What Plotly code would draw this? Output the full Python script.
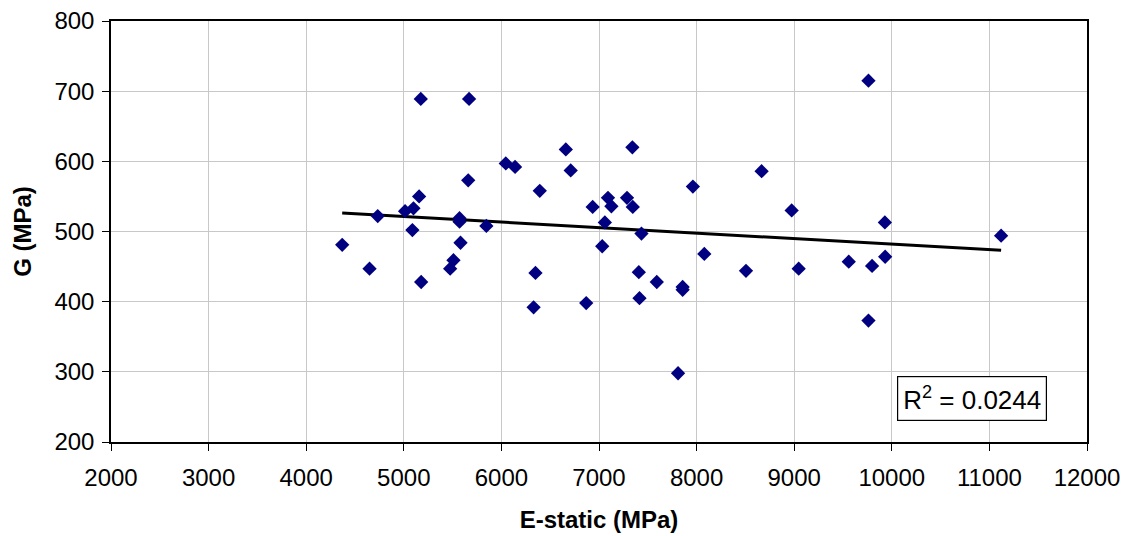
import numpy as np
import plotly.graph_objects as go

# E-static (MPa) vs G (MPa)
e_static = [5174, 5669, 6660, 7342, 6045, 6140, 6710, 5660, 6393, 7962,
            5157, 7092, 7287, 6935, 7127, 7346, 5099, 5013, 4733, 5571,
            5571, 5846, 7060, 7435, 5088, 4369, 5581, 7033, 4649, 5509,
            5475, 5178, 6349, 7408, 7592, 7857, 7857, 7415, 6330, 6869,
            9761, 8666, 8974, 9929, 11120, 8079, 9932, 8506, 9046, 9559,
            9798, 9761, 7810]
g_mod = [689, 689, 617, 620, 597, 592, 587, 573, 558, 564,
         550, 548, 548, 535, 536, 535, 533, 529, 522, 519,
         514, 508, 513, 497, 502, 481, 484, 479, 447, 459,
         447, 428, 441, 442, 428, 421, 417, 405, 392, 398,
         715, 586, 530, 513, 494, 468, 464, 444, 447, 457,
         451, 373, 298]

r2_label = "R<sup>2</sup> = 0.0244"

# linear trendline over the data range
slope, intercept = np.polyfit(e_static, g_mod, 1)
tx = [min(e_static), max(e_static)]
ty = [slope * v + intercept for v in tx]

fig = go.Figure()
fig.add_trace(go.Scatter(
    x=tx, y=ty, mode="lines",
    line=dict(color="black", width=3),
    hoverinfo="skip"
))
fig.add_trace(go.Scatter(
    x=e_static, y=g_mod, mode="markers",
    marker=dict(symbol="diamond", color="#000080", size=11,
                line=dict(width=0))
))

fam = "Liberation Sans, Arial, sans-serif"
tick_font = dict(family=fam, size=24, color="black")
title_font = dict(family=fam, size=24, color="black")

fig.update_xaxes(
    range=[2000, 12000], dtick=1000, tick0=2000, tickformat="d",
    showgrid=True, gridcolor="#c8c8c8", gridwidth=1,
    showline=True, linecolor="black", linewidth=1.5, mirror=True,
    ticks="outside", ticklen=7, tickcolor="black", ticklabelstandoff=6,
    tickfont=tick_font, zeroline=False, automargin=False,
    title=dict(text="<b>E-static (MPa)</b>", font=title_font, standoff=22)
)
fig.update_yaxes(
    range=[200, 800], dtick=100, tick0=200, tickformat="d",
    showgrid=True, gridcolor="#c8c8c8", gridwidth=1,
    showline=True, linecolor="black", linewidth=1.5, mirror=True,
    ticks="outside", ticklen=7, tickcolor="black", ticklabelstandoff=3,
    tickfont=tick_font, zeroline=False, automargin=False,
    title=dict(text="<b>G (MPa)</b>", font=title_font, standoff=16)
)

fig.add_annotation(
    x=10817, y=262, xref="x", yref="y", text=r2_label, showarrow=False,
    font=dict(family=fam, size=26, color="black"),
    bordercolor="black", borderwidth=1.2, borderpad=5, bgcolor="white"
)

fig.update_layout(
    width=1125, height=536,
    margin=dict(l=111, r=38, t=21, b=94),
    paper_bgcolor="white", plot_bgcolor="white",
    showlegend=False
)

fig.write_html("out.html", config={"displayModeBar": False},
               post_script="document.body.style.margin='0';")
